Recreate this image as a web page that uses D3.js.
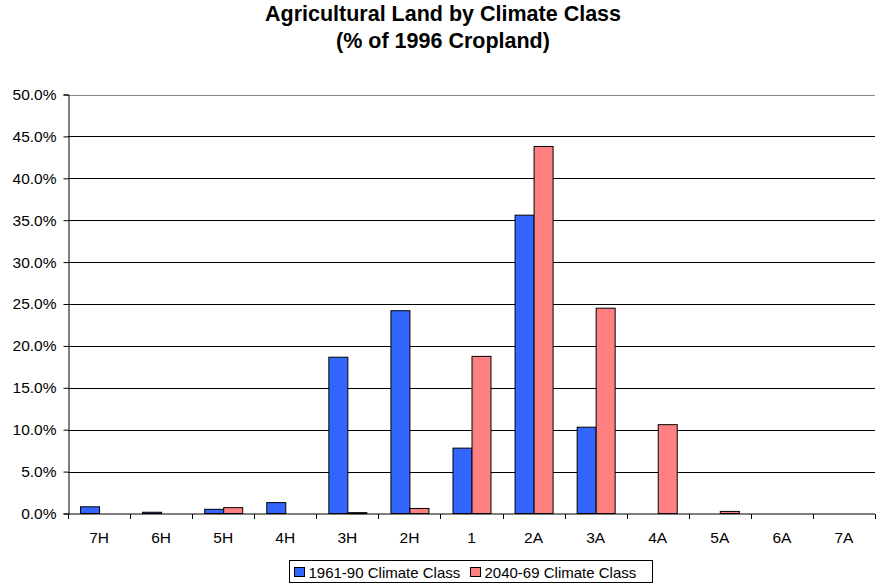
<!DOCTYPE html>
<html><head><meta charset="utf-8">
<script src="https://cdn.jsdelivr.net/npm/d3@7"></script>
<style>body{margin:0;background:#fff;}svg{display:block;font-family:"Liberation Sans",Arial,sans-serif;}</style>
</head><body><svg id="c" width="882" height="586"></svg>
<script>
const categories = ["7H","6H","5H","4H","3H","2H","1","2A","3A","4A","5A","6A","7A"];
const series1Name = "1961-90 Climate Class";
const series2Name = "2040-69 Climate Class";
const series1 = [0.8, 0.15, 0.5, 1.3, 18.65, 24.2, 7.8, 35.6, 10.3, 0, 0, 0, 0];
const series2 = [0, 0, 0.7, 0, 0.1, 0.6, 18.75, 43.8, 24.5, 10.6, 0.25, 0, 0];
const yTicks = [0,5,10,15,20,25,30,35,40,45,50];
const colors = ["#3366FF","#FF8080"];

const FONT = "Liberation Sans, Arial, sans-serif";
const svg = d3.select("#c");
const L = 68, R = 875, T = 94.5, B = 513.5;
const x = d3.scaleBand().domain(categories).range([L, R]);
const y = d3.scaleLinear().domain([0, 50]).range([B, T]);
const bw = 19;

// title
svg.append("text").attr("x", 443).attr("y", 21).attr("text-anchor","middle")
  .attr("font-size", 21.5).attr("font-weight","bold").text("Agricultural Land by Climate Class");
svg.append("text").attr("x", 443).attr("y", 48).attr("text-anchor","middle")
  .attr("font-size", 21.5).attr("font-weight","bold").text("(% of 1996 Cropland)");

// gridlines
svg.append("g").selectAll("line").data(yTicks.filter(d=>d>0)).join("line")
  .attr("x1", L).attr("x2", R).attr("y1", d=>Math.round(y(d))+0.5).attr("y2", d=>Math.round(y(d))+0.5)
  .attr("stroke", d=> d===50 ? "#888" : "#000").attr("stroke-width", 1);

// bars
const data = categories.map((c,i)=>({c, v:[series1[i], series2[i]]}));
const g = svg.append("g");
data.forEach(d=>{
  d.v.forEach((v,k)=>{
    if (v<=0) return;
    const cx = x(d.c) + x.bandwidth()/2;
    const x0 = cx - bw + k*bw;
    const y0 = y(v);
    g.append("rect").attr("x", x0+0.5).attr("y", y0).attr("width", bw).attr("height", Math.max(B - y0, 1))
      .attr("fill", colors[k]).attr("stroke", "#000").attr("stroke-width", 1);
  });
});

// y axis
const ya = d3.axisLeft(y).tickValues(yTicks).tickFormat(d=>d.toFixed(1)+"%").tickSize(5).tickPadding(7);
const yg = svg.append("g").attr("transform", `translate(${L+0.5},0)`).call(ya);
yg.select(".domain").attr("stroke","#000");
yg.selectAll(".tick line").attr("stroke","#000");
yg.selectAll("text").attr("font-size", 15.5).attr("fill","#000").attr("font-family", FONT);

// x axis
const xa = d3.axisBottom(x).tickSize(0).tickPadding(0);
const xg = svg.append("g").attr("transform", `translate(0,${B+0.5})`).call(xa);
xg.select(".domain").attr("stroke","#000").attr("d", `M${L},0H${R}`);
xg.selectAll("text").attr("font-size", 15.5).attr("fill","#000").attr("dy", 0).attr("y", 28.5)
  .attr("font-family", FONT);
// category separator ticks
xg.append("g").selectAll("line").data(categories.map(c=>x(c)).concat([R])).join("line")
  .attr("x1", d=>Math.round(d)+0.5).attr("x2", d=>Math.round(d)+0.5).attr("y1",0).attr("y2",5).attr("stroke","#000");

// legend
const lg = svg.append("g");
lg.append("rect").attr("x", 289.5).attr("y", 560.5).attr("width", 363).attr("height", 22)
  .attr("fill","#fff").attr("stroke","#000");
const items = [series1Name, series2Name];
const lx = [294, 470];
items.forEach((n,k)=>{
  lg.append("rect").attr("x", lx[k]+0.5).attr("y", 567.5).attr("width", 10).attr("height", 9)
    .attr("fill", colors[k]).attr("stroke","#000");
  lg.append("text").attr("x", lx[k]+14.5).attr("y", 577.5).attr("font-size", 15).text(n);
});
</script></body></html>
